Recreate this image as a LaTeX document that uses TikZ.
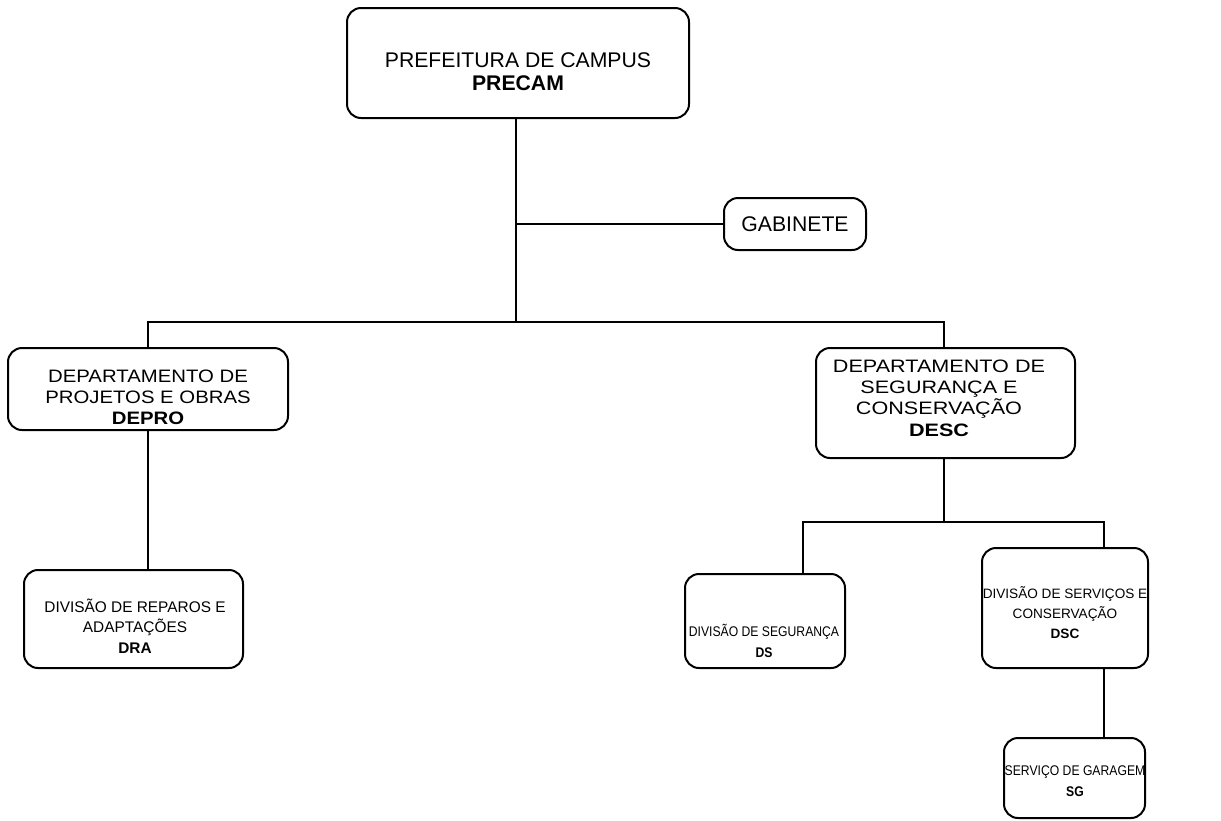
\documentclass[tikz,border=0pt]{standalone}
\usepackage{fontspec}
\setmainfont{Liberation Sans}
\newfontfamily\narrowsans[FakeStretch=0.87]{Liberation Sans}
\newfontfamily\widesans[FakeStretch=1.13]{Liberation Sans}
\newfontfamily\widersans[FakeStretch=1.2]{Liberation Sans}
\begin{document}
\begin{tikzpicture}[x=0.5pt,y=-0.5pt,
  box/.style={draw,line width=1pt,rounded corners=7pt,inner sep=0pt},
  lbl/.style={align=center,inner sep=0pt},
  big/.style={lbl,font=\fontsize{10.6}{11.5}\selectfont},
  mid/.style={lbl,font=\widesans\fontsize{9}{10.4}\selectfont},
  midw/.style={lbl,font=\widersans\fontsize{9}{10.6}\selectfont},
  sml/.style={lbl,font=\fontsize{6.8}{10}\selectfont},
  smlw/.style={lbl,font=\fontsize{7.7}{10.3}\selectfont},
  smln/.style={lbl,font=\narrowsans\fontsize{7}{10.5}\selectfont},
  conn/.style={line width=1pt}]
\useasboundingbox (0,0) rectangle (1221,820);
% boxes
\node[box,minimum width=171pt,minimum height=55pt] (top) at (518,63) {};
\node[box,minimum width=71pt,minimum height=26pt] (gab) at (795,224) {};
\node[box,minimum width=140pt,minimum height=41pt] (depro) at (148,389) {};
\node[box,minimum width=129.5pt,minimum height=55pt] (desc) at (945.5,403) {};
\node[box,minimum width=109.5pt,minimum height=49pt] (dra) at (133.5,619) {};
\node[box,minimum width=80pt,minimum height=47pt] (ds) at (765,621) {};
\node[box,minimum width=83pt,minimum height=60pt] (dsc) at (1065,608) {};
\node[box,minimum width=70.5pt,minimum height=40pt] (sg) at (1074.5,778) {};
% texts
\node[big] (ttop) at (518,72) {PREFEITURA DE CAMPUS\\\textbf{PRECAM}};
\node[big] (tgab) at (795,224) {GABINETE};
\node[mid] (tdepro) at (148,397) {DEPARTAMENTO DE\\PROJETOS E OBRAS\\\textbf{DEPRO}};
\node[midw] (tdesc) at (939,398) {DEPARTAMENTO DE\\SEGURANÇA E\\CONSERVAÇÃO\\\textbf{DESC}};
\node[smlw] (tdra) at (135,626) {DIVISÃO DE REPAROS E\\ADAPTAÇÕES\\\textbf{DRA}};
\node[smln] (tds) at (764,641) {DIVISÃO DE SEGURANÇA\\\textbf{DS}};
\node[sml] (tdsc) at (1065,613) {DIVISÃO DE SERVIÇOS E\\CONSERVAÇÃO\\\textbf{DSC}};
\node[smln] (tsg) at (1075,781) {SERVIÇO DE GARAGEM\\\textbf{SG}};
% junction coordinates
\coordinate (j1) at (516,322);
\coordinate (j2) at (944,522);
% connectors
\draw[conn] (top.south -| j1) -- (j1);
\draw[conn] (j1 |- gab.west) -- (gab.west);
\draw[conn] (j1) -| (depro.north);
\draw[conn] (j1) -| (desc.north -| j2);
\draw[conn] (depro.south) -- (dra.north -| depro.south);
\draw[conn] (desc.south -| j2) -- (j2);
\draw[conn] (j2) -| (803,0 |- ds.north);
\draw[conn] (j2) -| (1104,0 |- dsc.north);
\draw[conn] (1104,0 |- dsc.south) -- (1104,0 |- sg.north);
\end{tikzpicture}
\end{document}
